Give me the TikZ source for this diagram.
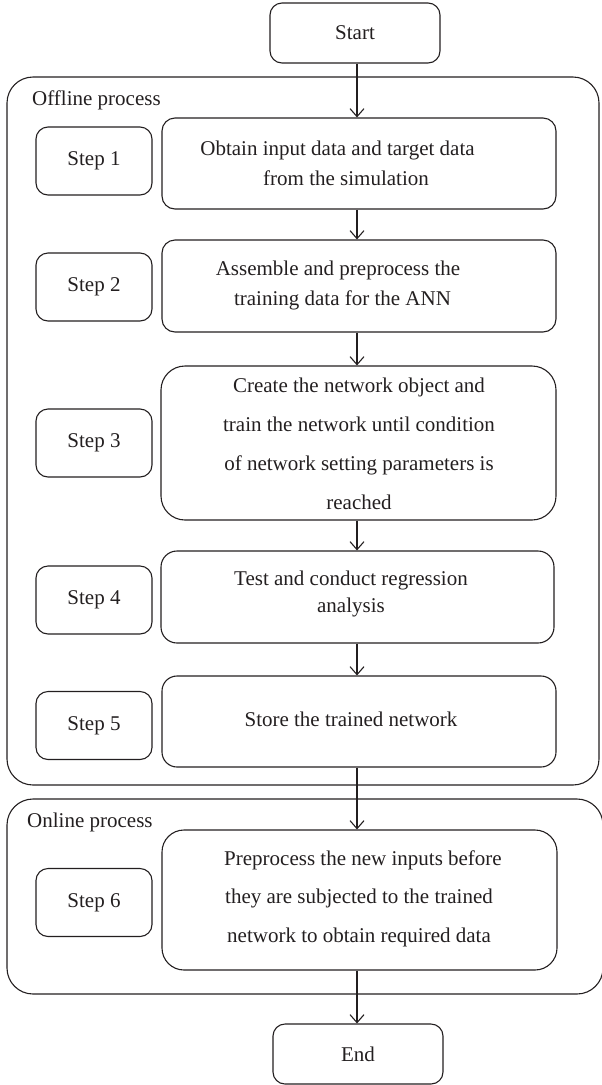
\documentclass[tikz,border=0pt]{standalone}
\usepackage{fontspec}
\setmainfont{Liberation Serif}
\usetikzlibrary{arrows.meta}
\definecolor{ink}{HTML}{231F20}
\begin{document}
\begin{tikzpicture}[x=1pt,y=-1pt]
\tikzset{
  every node/.style={font=\fontsize{21}{30}\selectfont, text=ink},
  frame/.style={draw=ink, line width=1.1pt, rounded corners=#1, inner sep=0pt},
  frame/.default=12pt,
  stepbox/.style={frame=12pt, minimum width=116pt, minimum height=68pt},
  termbox/.style={frame=12pt, minimum width=170pt, minimum height=60pt},
  group/.style={frame=26pt},
  caption/.style={inner sep=0pt, anchor=base west},
  txt/.style={inner sep=0pt, align=center},
  widetxt/.style={txt, font=\fontsize{21}{39}\selectfont},
  flow/.style={draw=ink, line width=1.1pt, -{Straight Barb[length=8pt,width=14pt]}},
}
\useasboundingbox (0,0) rectangle (602,1085);

% process groups
\node[group, minimum width=592pt, minimum height=708pt] (offline) at (303,431) {};
\node[group, minimum width=596pt, minimum height=195pt] (online) at (305,896.5) {};
\node[caption] (offlab) at (32,105) {Offline process};
\node[caption] (onlab) at (27,827) {Online process};

% terminals
\node[termbox] (start) at (355,33) {Start};
\node[termbox] (end) at (358,1054) {End};

% step labels
\node[stepbox] (s1) at (94,161) {Step 1};
\node[stepbox] (s2) at (94,287) {Step 2};
\node[stepbox] (s3) at (94,443) {Step 3};
\node[stepbox] (s4) at (94,600) {Step 4};
\node[stepbox] (s5) at (94,725.5) {Step 5};
\node[stepbox] (s6) at (94,902.5) {Step 6};

% task boxes
\node[frame=13pt, minimum width=394pt, minimum height=91pt] (m1) at (359,163.5) {};
\node[frame=13pt, minimum width=394pt, minimum height=92pt] (m2) at (359,286) {};
\node[frame=24pt, minimum width=395pt, minimum height=154pt] (m3) at (358.5,443) {};
\node[frame=16pt, minimum width=393pt, minimum height=92pt] (m4) at (357.5,597) {};
\node[frame=15pt, minimum width=394pt, minimum height=91pt] (m5) at (359,721.5) {};
\node[frame=22pt, minimum width=395pt, minimum height=140pt] (m6) at (359.5,900) {};

% task texts
\node[txt] (t1) at (337.5,163) {Obtain input data and target data\\\hspace{17pt}from the simulation};
\node[txt] (t2) at (338,285.5) {Assemble and preprocess the\\\hspace{9pt}training data for the ANN};
\node[widetxt] (t3) at (359,443.5) {Create the network object and\\train the network until condition\\of network setting parameters is\hspace{12pt}\\reached};
\node[txt, font=\fontsize{21}{27}\selectfont] (t4) at (351,594) {Test and conduct regression\\analysis\hspace{40pt}};
\node[txt] (t5) at (351,719) {Store the trained network};
\node[widetxt, font=\fontsize{21}{38.5}\selectfont] (t6) at (359,898.5) {\hspace{8pt}Preprocess the new inputs before\\they are subjected to the trained\\network to obtain required data};

% flow
\coordinate (ax) at (357,0);
\draw[flow] (start.south -| ax) -- (m1.north -| ax);
\draw[flow] (m1.south -| ax) -- (m2.north -| ax);
\draw[flow] (m2.south -| ax) -- (m3.north -| ax);
\draw[flow] (m3.south -| ax) -- (m4.north -| ax);
\draw[flow] (m4.south -| ax) -- (m5.north -| ax);
\draw[flow] (m5.south -| ax) -- (m6.north -| ax);
\draw[flow] (m6.south -| ax) -- (end.north -| ax);
\end{tikzpicture}
\end{document}
